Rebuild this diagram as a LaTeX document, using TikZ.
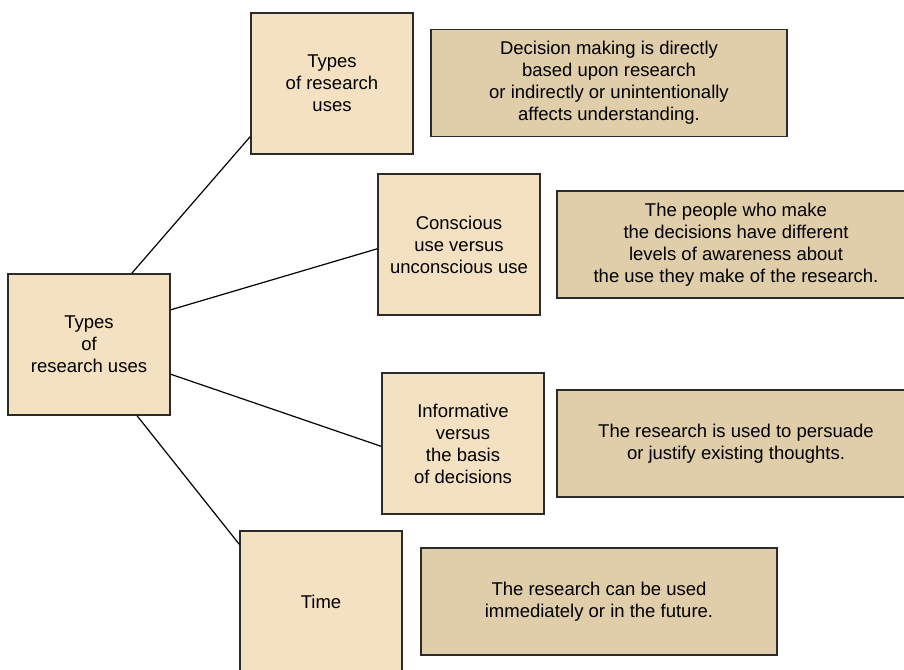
\documentclass[tikz,border=0pt]{standalone}
\usepackage{fontspec}
\setmainfont{Liberation Sans}
\definecolor{boxlight}{HTML}{F4E1C1}
\definecolor{boxdark}{HTML}{E0CDA9}
\definecolor{edge}{HTML}{2B2B2B}
\begin{document}
\begin{tikzpicture}[x=1pt,y=-1pt,
  every node/.style={font=\fontsize{18.5}{22}\selectfont, align=center, inner sep=0pt},
  catbox/.style={draw=edge, line width=1.5pt, fill=boxlight, minimum width=162pt, minimum height=141pt},
  descbox/.style={draw=edge, line width=1.5pt, fill=boxdark, minimum height=107pt},
  link/.style={draw=black, line width=1.2pt}]
\useasboundingbox (0,0) rectangle (904,669);
\clip (0,0) rectangle (904,669);
\fill[white] (0,0) rectangle (904,669);

% main category and its four kinds
\node[catbox] (root) at (89,344.5) {Types\\of\\research uses};
\node[catbox] (kinds) at (332,83.5) {Types\\of research\\uses};
\node[catbox] (conscious) at (459,244.5) {Conscious\\use versus\\unconscious use};
\node[catbox] (inform) at (463,443.5) {Informative\\versus\\the basis\\of decisions};
\node[catbox] (time) at (321,601.5) {Time};

% descriptions
\node[descbox, minimum width=356pt] (dkinds) at (609,83) {Decision making is directly\\based upon research\\or indirectly or unintentionally\\affects understanding.};
\node[descbox, minimum width=358pt] (dconscious) at (736,244.5) {The people who make\\the decisions have different\\levels of awareness about\\the use they make of the research.};
\node[descbox, minimum width=358pt] (dinform) at (736,443.5) {The research is used to persuade\\or justify existing thoughts.};
\node[descbox, minimum width=356pt] (dtime) at (599,601.5) {The research can be used\\immediately or in the future.};

% connectors from the main box
\draw[link] (root.59.6) -- (kinds.213.9);
\draw[link] (root.23.1) -- (conscious.183.2);
\draw[link] (root.-20) -- (inform.182.5);
\draw[link] (root.-56.9) -- (time.145);
\end{tikzpicture}
\end{document}
